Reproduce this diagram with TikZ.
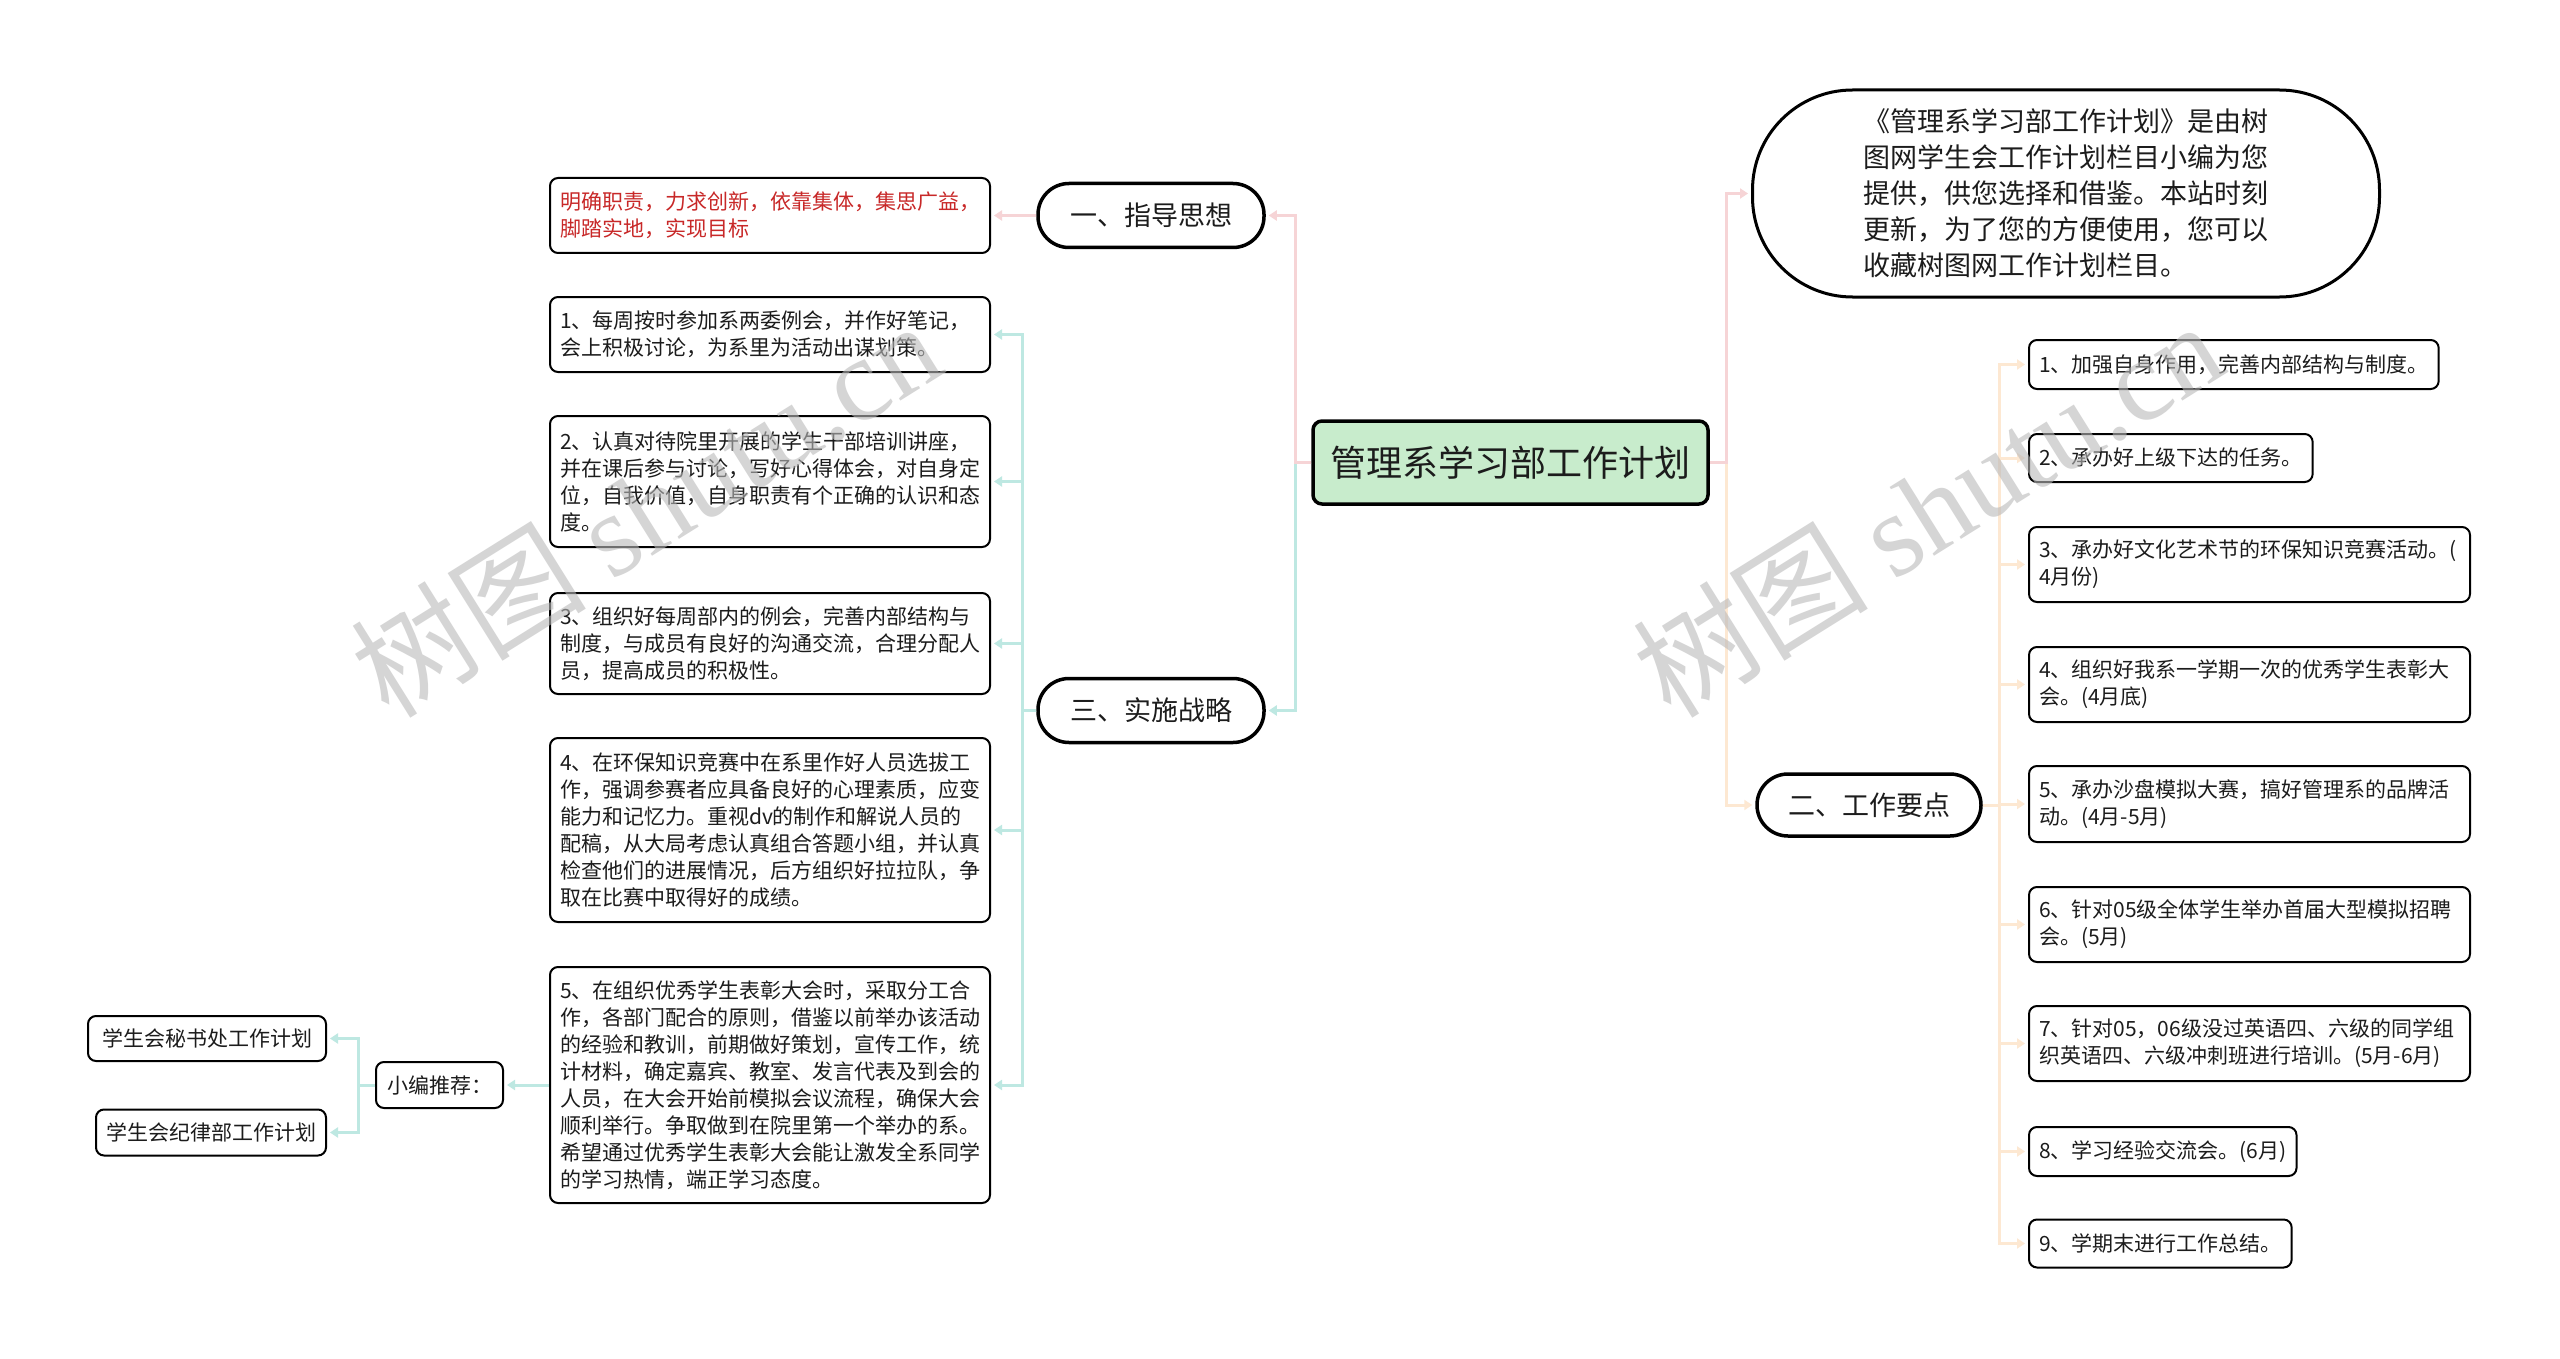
\documentclass[tikz,border=0pt]{standalone}
\usepackage{fontspec}
\setmainfont{Noto Sans CJK SC}
\newfontfamily\wmfont{Liberation Serif}
\usetikzlibrary{arrows.meta}
\definecolor{pinkc}{RGB}{246,212,214}
\definecolor{tealc}{RGB}{190,232,226}
\definecolor{peachc}{RGB}{253,232,210}
\definecolor{rootfill}{RGB}{200,236,204}
\definecolor{redtext}{RGB}{200,40,40}
\definecolor{txt}{RGB}{28,28,28}
\definecolor{wmc}{RGB}{185,185,185}
\tikzset{
  item/.style={draw=black, line width=2pt, rounded corners=8pt, fill=white, text=txt,
    font=\fontsize{21}{27}\selectfont, align=left, inner xsep=10pt, inner ysep=6pt, anchor=west},
  branch/.style={draw=black, line width=3.5pt, rounded corners=31pt, fill=white, text=txt,
    font=\fontsize{27}{32}\selectfont, minimum width=226pt, minimum height=64pt, inner sep=0pt},
  conn/.style={line width=3pt, -{Triangle[length=8pt,width=10pt]}, shorten >=3pt},
  wm/.style={text=wmc, text opacity=0.6, rotate=32, inner sep=0pt}
}
\begin{document}
\begin{tikzpicture}[x=1pt,y=-1pt]
\path[use as bounding box, fill=white] (0,0) rectangle (2560,1359);
% central
\node[draw=black, line width=3.5pt, rounded corners=9pt, fill=rootfill, text=txt,
  font=\fontsize{36}{40}\selectfont, minimum width=395pt, minimum height=83pt, inner sep=0pt]
  (root) at (1510.5,462.5) {管理系学习部工作计划};
% branches
\node[branch] (b1) at (1151,215.5) {一、指导思想};
\node[branch] (b3) at (1151,710.5) {三、实施战略};
\node[branch, minimum width=224pt, minimum height=62pt] (b2) at (1869,805) {二、工作要点};
% intro
\node[draw=black, line width=3pt, rounded corners=100pt, fill=white, text=txt,
  font=\fontsize{27}{36}\selectfont, align=left, minimum width=627pt, minimum height=207pt, inner sep=0pt]
  (intro) at (2066,193.5) {《管理系学习部工作计划》是由树\\图网学生会工作计划栏目小编为您\\提供，供您选择和借鉴。本站时刻\\更新，为了您的方便使用，您可以\\收藏树图网工作计划栏目。};
% left items
\node[item, text width=420pt, minimum height=75pt, text=redtext] (red) at (549,215.5) {明确职责，力求创新，依靠集体，集思广益，\\脚踏实地，实现目标};
\node[item, text width=420pt, minimum height=75pt] (l1) at (549,334.5) {1、每周按时参加系两委例会，并作好笔记，\\会上积极讨论，为系里为活动出谋划策。};
\node[item, text width=420pt, minimum height=131pt] (l2) at (549,481.5) {2、认真对待院里开展的学生干部培训讲座，\\并在课后参与讨论，写好心得体会，对自身定\\位，自我价值，自身职责有个正确的认识和态\\度。};
\node[item, text width=420pt, minimum height=101pt] (l3) at (549,643.5) {3、组织好每周部内的例会，完善内部结构与\\制度，与成员有良好的沟通交流，合理分配人\\员，提高成员的积极性。};
\node[item, text width=420pt, minimum height=184pt] (l4) at (549,830) {4、在环保知识竞赛中在系里作好人员选拔工\\作，强调参赛者应具备良好的心理素质，应变\\能力和记忆力。重视dv的制作和解说人员的\\配稿，从大局考虑认真组合答题小组，并认真\\检查他们的进展情况，后方组织好拉拉队，争\\取在比赛中取得好的成绩。};
\node[item, text width=420pt, minimum height=236pt] (l5) at (549,1085) {5、在组织优秀学生表彰大会时，采取分工合\\作，各部门配合的原则，借鉴以前举办该活动\\的经验和教训，前期做好策划，宣传工作，统\\计材料，确定嘉宾、教室、发言代表及到会的\\人员，在大会开始前模拟会议流程，确保大会\\顺利举行。争取做到在院里第一个举办的系。\\希望通过优秀学生表彰大会能让激发全系同学\\的学习热情，端正学习态度。};
% recommendation
\node[item, anchor=center, minimum height=46pt, minimum width=127pt] (xb) at (439.5,1085) {小编推荐：};
\node[item, anchor=east, minimum height=45pt, inner xsep=14pt] (s1) at (327,1038.5) {学生会秘书处工作计划};
\node[item, anchor=east, minimum height=46pt] (s2) at (327,1132.5) {学生会纪律部工作计划};
% right items
\node[item, minimum height=49pt] (r1) at (2028,364.5) {1、加强自身作用，完善内部结构与制度。};
\node[item, minimum height=48pt] (r2) at (2028,458) {2、承办好上级下达的任务。};
\node[item, text width=421pt, minimum height=75pt] (r3) at (2028,564.5) {3、承办好文化艺术节的环保知识竞赛活动。(\\4月份)};
\node[item, text width=421pt, minimum height=75pt] (r4) at (2028,684.5) {4、组织好我系一学期一次的优秀学生表彰大\\会。(4月底)};
\node[item, text width=421pt, minimum height=76pt] (r5) at (2028,804) {5、承办沙盘模拟大赛，搞好管理系的品牌活\\动。(4月-5月)};
\node[item, text width=421pt, minimum height=75pt] (r6) at (2028,924.5) {6、针对05级全体学生举办首届大型模拟招聘\\会。(5月)};
\node[item, text width=421pt, minimum height=75pt] (r7) at (2028,1043.5) {7、针对05，06级没过英语四、六级的同学组\\织英语四、六级冲刺班进行培训。(5月-6月)};
\node[item, minimum height=49pt] (r8) at (2028,1151.5) {8、学习经验交流会。(6月)};
\node[item, minimum height=48pt] (r9) at (2028,1243.5) {9、学期末进行工作总结。};
% junction coordinates
\coordinate (lj) at (1295,462.5);
\coordinate (rj) at (1726,462.5);
\coordinate (t3) at (1022,710.5);
\coordinate (t2) at (1999,805);
\coordinate (t4) at (358,1085);
% connectors
\draw[conn, peachc] (root.east) -- (rj) |- (b2.west);
\draw[conn, pinkc] (root.east) -- (rj) |- (intro.west);
\draw[conn, tealc] (root.west) -- (lj) |- (b3.east);
\draw[conn, pinkc] (root.west) -- (lj) |- (b1.east);
\draw[conn, pinkc] (b1.west) -- (red.east);
\foreach \n in {l1,l2,l3,l4,l5} \draw[conn, tealc] (b3.west) -- (t3) |- (\n.east);
\draw[conn, tealc] (l5.west) -- (xb.east);
\foreach \n in {s1,s2} \draw[conn, tealc] (xb.west) -- (t4) |- (\n.east);
\foreach \n in {r1,r2,r3,r4,r5,r6,r7,r8,r9} \draw[conn, peachc] (b2.east) -- (t2) |- (\n.west);
% watermarks
\node[wm, font=\fontsize{118}{118}\selectfont] (wm1) at (645,508) {树图 {\wmfont shutu.cn}};
\node[wm, font=\fontsize{118}{118}\selectfont] (wm2) at (1927,508) {树图 {\wmfont shutu.cn}};
\end{tikzpicture}
\end{document}
